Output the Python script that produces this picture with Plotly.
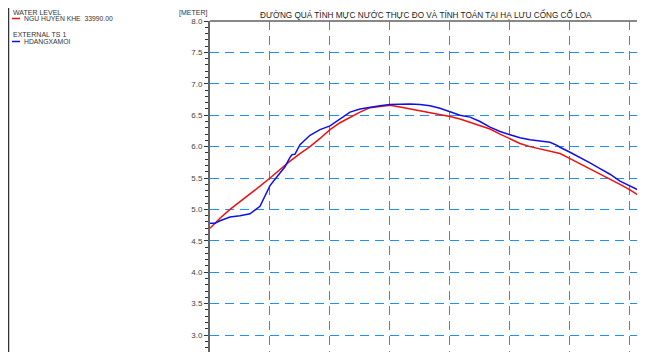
import plotly.graph_objects as go

# ---- data (hours from start of record, water level in metres) ----
red_name = "NGU HUYEN KHE  33990.00"
red_hours = [0, 1, 2, 3, 4, 5, 6, 7, 8, 9, 10, 11, 12, 13, 14, 15, 16, 17, 18,
             19, 20, 21, 22, 23, 24, 25, 26, 27, 28, 29, 30, 31, 32, 33, 34, 35,
             36, 37, 38, 39, 40, 41, 42, 43, 43.2]
red_level = [4.70, 4.86, 5.00, 5.12, 5.24, 5.37, 5.50, 5.64, 5.77, 5.89, 6.00,
             6.13, 6.27, 6.38, 6.47, 6.55, 6.62, 6.64, 6.66, 6.63, 6.60, 6.58,
             6.55, 6.52, 6.48, 6.44, 6.39, 6.34, 6.28, 6.20, 6.12, 6.05, 6.00,
             5.96, 5.93, 5.89, 5.81, 5.73, 5.65, 5.57, 5.49, 5.40, 5.31, 5.22, 5.19]

blue_name = "HDANGXAMOI"
blue_hours = [0, 0.5, 1, 2, 3, 4, 5, 6, 7, 7.5, 8, 8.2, 8.5, 9, 10, 11, 12, 13,
              14, 15, 16, 17, 18, 19, 20, 21, 22, 23, 24, 25, 26, 27, 28, 29,
              30, 31, 32, 33, 34, 34.7, 35, 36, 37, 38, 39, 40, 41, 42, 43.2]
blue_level = [4.78, 4.78, 4.82, 4.88, 4.90, 4.93, 5.05, 5.38, 5.58, 5.68, 5.83,
              5.87, 5.88, 6.03, 6.18, 6.27, 6.33, 6.44, 6.55, 6.60, 6.63, 6.65,
              6.67, 6.68, 6.68, 6.67, 6.65, 6.61, 6.55, 6.50, 6.47, 6.40, 6.31,
              6.24, 6.19, 6.14, 6.11, 6.09, 6.07, 6.02, 5.99, 5.91, 5.83, 5.74,
              5.65, 5.56, 5.45, 5.37, 5.28]

title_text = "ĐƯỜNG QUÁ TÌNH MỰC NƯỚC THỰC ĐO VÀ TÍNH TOÁN TẠI HẠ LƯU CỐNG CỔ LOA"
group1 = "WATER LEVEL"
group2 = "EXTERNAL TS 1"
y_unit = "[METER]"

# page body has an 8px margin: figure origin sits at page (8, 8)
OFF = 8
W, H = 637, 344
L, T = 210 - OFF, 21 - OFF
R = W - (642 - OFF)
B = 0
PW, PH = W - L - R, H - T - B


def px(x):  # page x -> paper
    return (x - OFF - L) / PW


def py(y):  # page y -> paper
    return (H - (y - OFF)) / PH


FONT = "Liberation Sans, Arial, sans-serif"

fig = go.Figure()
fig.add_trace(go.Scatter(x=red_hours, y=red_level, mode="lines", name=red_name,
                         line=dict(color="#ee1111", width=1.5), showlegend=False))
fig.add_trace(go.Scatter(x=blue_hours, y=blue_level, mode="lines", name=blue_name,
                         line=dict(color="#1010e8", width=1.5), showlegend=False))

grid_col = "#1e8fff"
fig.update_layout(
    width=W, height=H,
    margin=dict(l=L, r=R, t=T, b=B, autoexpand=False),
    paper_bgcolor="white", plot_bgcolor="white",
    font=dict(family=FONT, size=8, color="#333"),
    showlegend=False,
    xaxis=dict(range=[0, 43.2], tick0=5.9, dtick=6, showticklabels=False,
               ticks="", showgrid=True, gridcolor=grid_col, gridwidth=1,
               griddash="9px,6px", zeroline=False, showline=False),
    yaxis=dict(range=[2.73, 8.0], dtick=0.5, tick0=0, tickformat=".1f",
               showgrid=True, gridcolor=grid_col, gridwidth=1.2,
               griddash="9px,6px", zeroline=False,
               showline=True, linecolor="#666", linewidth=2, mirror=True,
               ticks="outside", ticklen=4, tickwidth=1, tickcolor="#333",
               tickfont=dict(size=8, color="#444"),
               minor=dict(dtick=0.1, ticks="outside", ticklen=3,
                          tickcolor="#333", showgrid=False)),
)

shapes = [
    # top border of plot frame
    dict(type="line", xref="paper", yref="paper", x0=0, x1=1, y0=1, y1=1,
         line=dict(color="#888", width=2), layer="below"),
    # legend panel separator
    dict(type="line", xref="paper", yref="paper", x0=px(8.5), x1=px(8.5),
         y0=py(8), y1=py(352), line=dict(color="#333", width=1.5)),
    # legend line samples
    dict(type="line", xref="paper", yref="paper", x0=px(12), x1=px(20),
         y0=py(18.5), y1=py(18.5), line=dict(color="#ee1111", width=1.5)),
    dict(type="line", xref="paper", yref="paper", x0=px(12), x1=px(20),
         y0=py(41.5), y1=py(41.5), line=dict(color="#1010e8", width=1.5)),
]

ann = []


def text(x, y, s, size=7, xanchor="left", color="#333"):
    ann.append(dict(xref="paper", yref="paper", x=px(x), y=py(y), text=s,
                    showarrow=False, xanchor=xanchor, yanchor="middle",
                    font=dict(family=FONT, size=size, color=color)))


text(11, 12.5, group1)
text(22, 18.5, red_name.replace("  ", "&nbsp; "), size=6.8)
text(11, 34, group2)
text(22, 41.5, blue_name, size=6.8)
text(209, 13, y_unit, size=7, xanchor="right")
text(426, 15, title_text, size=8.2, xanchor="center", color="#222")

fig.update_layout(shapes=shapes, annotations=ann)
fig.write_html("out.html")
